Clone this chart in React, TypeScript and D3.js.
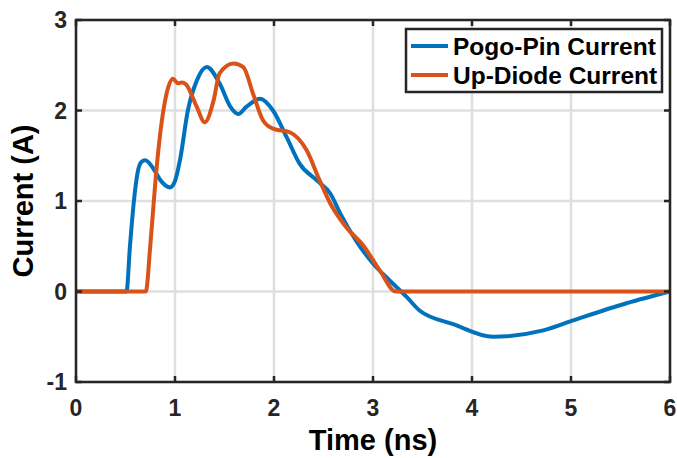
import React from "react";
import * as d3 from "d3";

const xTicks = [0, 1, 2, 3, 4, 5, 6];
const yTicks = [-1, 0, 1, 2, 3];

const pogoT = [0, 0.51, 0.545, 0.585, 0.62, 0.66, 0.70, 0.78, 0.86, 0.95, 1.0, 1.05, 1.13, 1.22, 1.32, 1.45, 1.56, 1.64, 1.72, 1.86, 1.99, 2.13, 2.26, 2.43, 2.57, 2.67, 2.83, 3.0, 3.17, 3.34, 3.47, 3.81, 4.21, 4.72, 5.02, 5.56, 6];
const pogoI = [0, 0, 0.5, 1.0, 1.3, 1.43, 1.45, 1.36, 1.22, 1.15, 1.22, 1.45, 2.0, 2.33, 2.48, 2.30, 2.04, 1.96, 2.04, 2.13, 2.0, 1.70, 1.41, 1.23, 1.08, 0.86, 0.56, 0.31, 0.12, -0.06, -0.21, -0.36, -0.50, -0.43, -0.32, -0.13, 0];

const diodeT = [0, 0.705, 0.75, 0.80, 0.85, 0.90, 0.98, 1.03, 1.07, 1.11, 1.22, 1.30, 1.39, 1.45, 1.59, 1.69, 1.79, 1.89, 1.99, 2.16, 2.33, 2.46, 2.57, 2.73, 2.90, 3.07, 3.23, 6];
const diodeI = [0, 0, 0.5, 1.19, 1.74, 2.11, 2.35, 2.30, 2.31, 2.29, 2.04, 1.87, 2.11, 2.41, 2.52, 2.48, 2.18, 1.89, 1.80, 1.76, 1.56, 1.23, 0.97, 0.71, 0.51, 0.23, 0, 0];

const seriesNames = ["Pogo-Pin Current", "Up-Diode Current"];
const seriesColors = ["#0072BD", "#D95319"];

const W = 677, H = 458;
const L = 76, R = 670, T = 20, B = 382;

export default function App() {
  const x = d3.scaleLinear().domain([0, 6]).range([L, R]);
  const y = d3.scaleLinear().domain([-1, 3]).range([B, T]);
  const line = d3.line<[number, number]>().x(d => x(d[0])).y(d => y(d[1])).curve(d3.curveMonotoneX);
  const pogo = pogoT.map((t, i) => [t, pogoI[i]] as [number, number]);
  const diode = diodeT.map((t, i) => [t, diodeI[i]] as [number, number]);
  const font = "'Liberation Sans', Arial, sans-serif";
  const axisColor = "#262626";
  const tickLen = 6;
  return (
    <svg width={W} height={H} style={{ position: "absolute", left: 0, top: 0, background: "#fff" }} fontFamily={font}>
      <rect x={0} y={0} width={W} height={H} fill="#fff" />
      {xTicks.map(t => (
        <line key={"gx" + t} x1={x(t)} x2={x(t)} y1={T} y2={B} stroke="#dfdfdf" strokeWidth={2.5} />
      ))}
      {yTicks.map(t => (
        <line key={"gy" + t} x1={L} x2={R} y1={y(t)} y2={y(t)} stroke="#dfdfdf" strokeWidth={2.5} />
      ))}
      <path d={line(pogo) || ""} fill="none" stroke={seriesColors[0]} strokeWidth={4} strokeLinejoin="round" />
      <path d={line(diode) || ""} fill="none" stroke={seriesColors[1]} strokeWidth={4} strokeLinejoin="round" />
      <rect x={L} y={T} width={R - L} height={B - T} fill="none" stroke={axisColor} strokeWidth={2.5} />
      {xTicks.map(t => (
        <g key={"tx" + t}>
          <line x1={x(t)} x2={x(t)} y1={B} y2={B - tickLen} stroke={axisColor} strokeWidth={2.5} />
          <line x1={x(t)} x2={x(t)} y1={T} y2={T + tickLen} stroke={axisColor} strokeWidth={2.5} />
          <text x={x(t)} y={416} textAnchor="middle" fontSize={23} fontWeight="bold" fill={axisColor}>{t}</text>
        </g>
      ))}
      {yTicks.map(t => (
        <g key={"ty" + t}>
          <line x1={L} x2={L + tickLen} y1={y(t)} y2={y(t)} stroke={axisColor} strokeWidth={2.5} />
          <line x1={R} x2={R - tickLen} y1={y(t)} y2={y(t)} stroke={axisColor} strokeWidth={2.5} />
          <text x={67} y={y(t)} dy="0.36em" textAnchor="end" fontSize={23} fontWeight="bold" fill={axisColor}>{t}</text>
        </g>
      ))}
      <text x={(L + R) / 2} y={450} textAnchor="middle" fontSize={29} fontWeight="bold" fill="#000">Time (ns)</text>
      <text transform={`translate(33,${(T + B) / 2}) rotate(-90)`} textAnchor="middle" fontSize={29} fontWeight="bold" fill="#000">Current (A)</text>
      <rect x={406} y={29} width={256} height={63} fill="#fff" stroke={axisColor} strokeWidth={2.5} />
      {seriesNames.map((n, i) => (
        <g key={n}>
          <line x1={411} x2={448} y1={46 + i * 29} y2={46 + i * 29} stroke={seriesColors[i]} strokeWidth={4} />
          <text x={453} y={46 + i * 29} dy="0.36em" fontSize={24.5} fontWeight="bold" fill="#000">{n}</text>
        </g>
      ))}
    </svg>
  );
}
